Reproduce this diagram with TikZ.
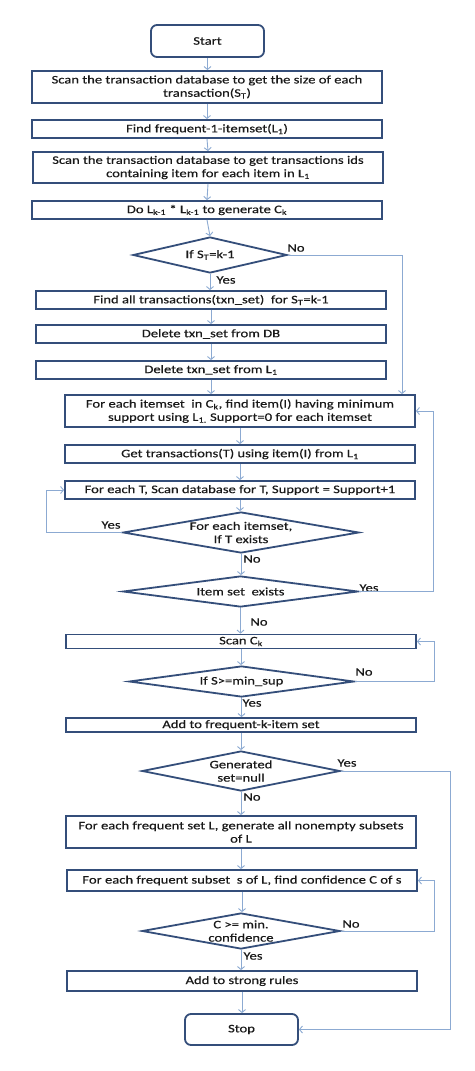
\documentclass[tikz,border=0pt]{standalone}
\usepackage{fontspec}
\setmainfont[FakeStretch=1.27,FakeBold=0.35]{Carlito}
\usetikzlibrary{shapes.geometric,arrows.meta}
\definecolor{bord}{RGB}{52,78,122}
\definecolor{lineblue}{RGB}{140,170,210}
\definecolor{txt}{RGB}{25,25,25}
\begin{document}
\begin{tikzpicture}[x=1pt,y=-1pt,
  font=\fontsize{11.5}{13.3}\selectfont,
  box/.style={draw=bord, line width=1.8pt, rectangle, inner sep=0pt, align=center, text=txt},
  term/.style={box, rounded corners=6pt},
  dia/.style={draw=bord, line width=1.8pt, diamond, inner sep=0pt},
  dtext/.style={align=center, inner sep=0pt, text=txt},
  lab/.style={inner sep=0pt, text=txt},
  conn/.style={draw=lineblue, line width=0.9pt, -{Straight Barb[length=3pt,width=7pt]}}]
\useasboundingbox[fill=white] (0,0) rectangle (474,1071);

% nodes
\node[term, minimum width=113, minimum height=32] (start) at (207.5,41) {Start};
\node[box, minimum width=350, minimum height=32] (b1) at (207,87) {Scan the transaction database to get the size of each\\transaction(S\textsubscript{T})};
\node[box, minimum width=350, minimum height=18] (b2) at (207,129) {Find frequent-1-itemset(L\textsubscript{1})};
\node[box, minimum width=350, minimum height=31] (b3) at (208,167.5) {Scan the transaction database to get transactions ids\\containing item for each item in L\textsubscript{1}};
\node[box, minimum width=350, minimum height=18] (b4) at (207,210) {Do L\textsubscript{k-1} * L\textsubscript{k-1} to generate C\textsubscript{k}};
\node[dia, minimum width=154, minimum height=36] (d1) at (210,255) {};
\node[dtext] (t1) at (d1) {If S\textsubscript{T}=k-1};
\node[box, minimum width=350, minimum height=18] (b5) at (211,300) {Find all transactions(txn\_set)\ \ for S\textsubscript{T}=k-1};
\node[box, minimum width=350, minimum height=18] (b6) at (211,334) {Delete txn\_set from DB};
\node[box, minimum width=350, minimum height=18] (b7) at (211,370) {Delete txn\_set from L\textsubscript{1}};
\node[box, minimum width=350, minimum height=32] (b8) at (240,411) {For each itemset\ \ in C\textsubscript{k}, find item(I) having minimum\\support using L\textsubscript{1.} Support=0 for each itemset};
\node[box, minimum width=350, minimum height=18] (b9) at (240,454) {Get transactions(T) using item(I) from L\textsubscript{1}};
\node[box, minimum width=350, minimum height=18] (b10) at (240,490) {For each T, Scan database for T, Support = Support+1};
\node[dia, minimum width=236, minimum height=41] (d2) at (241,532.5) {};
\node[dtext] (t2) at (d2) {For each itemset,\\If T exists};
\node[dia, minimum width=235, minimum height=31] (d3) at (240.5,591.5) {};
\node[dtext] (t3) at (d3) {Item set\ \ exists};
\node[box, minimum width=350, minimum height=14] (b11) at (241,641.5) {Scan C\textsubscript{k}};
\node[dia, minimum width=225, minimum height=31] (d4) at (241.5,681.5) {};
\node[dtext] (t4) at (d4) {If S>=min\_sup};
\node[box, minimum width=350, minimum height=14] (b12) at (241,725) {Add to frequent-k-item set};
\node[dia, minimum width=198, minimum height=40] (d5) at (241,771) {};
\node[dtext] (t5) at (d5) {Generated\\set=null};
\node[box, minimum width=350, minimum height=32] (b13) at (241,832) {For each frequent set L, generate all nonempty subsets\\of L};
\node[box, minimum width=350, minimum height=21] (b14) at (242,880.5) {For each frequent subset\ \ s of L, find confidence C of s};
\node[dia, minimum width=198, minimum height=36] (d6) at (241,931) {};
\node[dtext] (t6) at (d6) {C >= min.\\confidence};
\node[box, minimum width=350, minimum height=20] (b15) at (242,981) {Add to strong rules};
\node[term, minimum width=113, minimum height=31] (stop) at (241.5,1029.5) {Stop};

% labels
\node[lab] (l1) at (296,248) {No};
\node[lab] (l2) at (226,280) {Yes};
\node[lab] (l3) at (111,525) {Yes};
\node[lab] (l4) at (252,559) {No};
\node[lab] (l5) at (369,588) {Yes};
\node[lab] (l6) at (259,622) {No};
\node[lab] (l7) at (364,672) {No};
\node[lab] (l8) at (252,703) {Yes};
\node[lab] (l9) at (347,763) {Yes};
\node[lab] (l10) at (252,797) {No};
\node[lab] (l11) at (351,924) {No};
\node[lab] (l12) at (253,956) {Yes};

% connectors
\draw[conn] (start.south) -- (start.south |- b1.north);
\draw[conn] (b1.south) -- (b2.north);
\draw[conn] (b2.south) -- (b3.north);
\draw[conn] (b3.south) -- (b4.north);
\draw[conn] (b4.south) -- (d1.north);
\draw[conn] (d1.south) -- (d1.south |- b5.north);
\draw[conn] (d1.east) -| ([xshift=162pt]b8.north);
\draw[conn] (b5.south) -- (b6.north);
\draw[conn] (b6.south) -- (b7.north);
\draw[conn] (b7.south) -- (b7.south |- b8.north);
\draw[conn] (b8.south) -- (b9.north);
\draw[conn] (b9.south) -- (b10.north);
\draw[conn] (b10.south) -- (b10.south |- d2.north);
\draw[conn] (d2.west) -- ++(-76,0) |- (b10.west);
\draw[conn] (d2.south) -- (d2.south |- d3.north);
\draw[conn] (d3.east) -- ++(75,0) |- (b8.east);
\draw[conn] (d3.south) -- (d3.south |- b11.north);
\draw[conn] (b11.south) -- (b11.south |- d4.north);
\draw[conn] (d4.east) -- ++(80,0) |- (b11.east);
\draw[conn] (d4.south) -- (d4.south |- b12.north);
\draw[conn] (b12.south) -- (b12.south |- d5.north);
\draw[conn] (d5.east) -- ++(110,0) |- (stop.east);
\draw[conn] (d5.south) -- (d5.south |- b13.north);
\draw[conn] (b13.south) -- (b13.south |- b14.north);
\draw[conn] (b14.south) -- (b14.south |- d6.north);
\draw[conn] (d6.east) -- ++(94,0) |- (b14.east);
\draw[conn] (d6.south) -- (d6.south |- b15.north);
\draw[conn] (b15.south) -- (b15.south |- stop.north);
\end{tikzpicture}
\end{document}
